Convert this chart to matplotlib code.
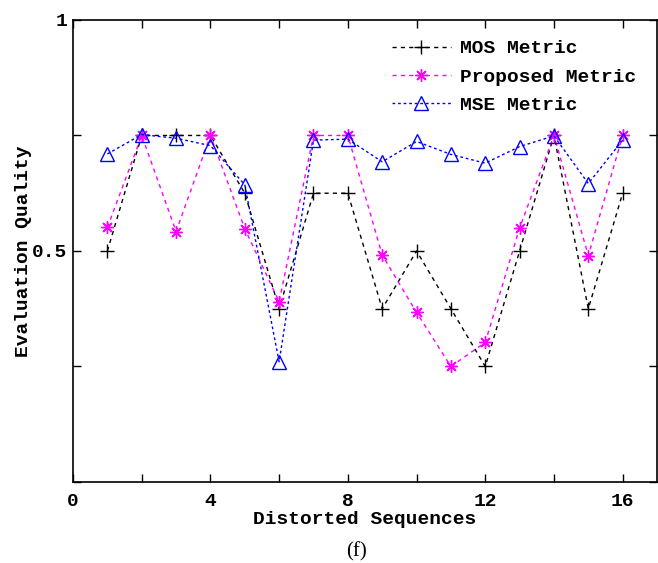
import matplotlib
matplotlib.use("Agg")
import matplotlib.pyplot as plt

# evaluation scores per distorted sequence
seq = [1, 2, 3, 4, 5, 6, 7, 8, 9, 10, 11, 12, 13, 14, 15, 16]
mos = [0.5, 0.75, 0.75, 0.75, 0.625, 0.375, 0.625, 0.625,
       0.375, 0.5, 0.375, 0.25, 0.5, 0.75, 0.375, 0.625]
proposed = [0.551, 0.75, 0.542, 0.75, 0.548, 0.39, 0.75, 0.75,
            0.491, 0.367, 0.25, 0.302, 0.55, 0.75, 0.49, 0.75]
mse = [0.71, 0.752, 0.744, 0.728, 0.643, 0.26, 0.74, 0.742,
       0.693, 0.737, 0.709, 0.69, 0.726, 0.749, 0.646, 0.74]

xticks = [0, 2, 4, 6, 8, 10, 12, 14, 16]
xlabels = ['0', '', '4', '', '8', '', '12', '', '16']
yticks = [0, 0.25, 0.5, 0.75, 1]
ylabels = ['', '', '0.5', '', '1']

mono = {'family': 'Liberation Mono', 'weight': 'bold'}

fig = plt.figure(figsize=(6.58, 5.63), dpi=100)
ax = fig.add_axes([0.111, 0.144, 0.8875, 0.8205])

ax.plot(seq, mos, color='black', ls=(0, (3, 3)), lw=1, marker='+',
        ms=10, mew=1, label='MOS Metric')
ax.plot(seq, proposed, color='magenta', ls=(0, (3, 3)), lw=1,
        marker=(8, 2, 0), ms=9, mew=1, label='Proposed Metric')
ax.plot(seq, mse, color='blue', ls=(0, (2, 2)), lw=1, marker='^',
        ms=10, mfc='none', mew=1, label='MSE Metric')

ax.set_xlim(0, 17)
ax.set_ylim(0, 1)
ax.set_xticks(xticks)
ax.set_xticklabels(xlabels)
ax.set_yticks(yticks)
ax.set_yticklabels(ylabels)
ax.tick_params(direction='in', top=True, right=True, length=6, width=1,
               labelsize=14)
ax.tick_params(axis='x', pad=8)
ax.tick_params(axis='y', pad=4)
for lab in ax.get_xticklabels() + ax.get_yticklabels():
    lab.set_fontfamily('Liberation Mono')
    lab.set_fontweight('bold')
for sp in ax.spines.values():
    sp.set_linewidth(1.2)

ax.set_xlabel('Distorted Sequences', fontsize=14, labelpad=1, **mono)
ax.set_ylabel('Evaluation Quality', fontsize=14, labelpad=0.5, **mono)

leg = ax.legend(loc='upper right', bbox_to_anchor=(0.995, 0.995), frameon=False,
                prop={'family': 'Liberation Mono', 'weight': 'bold', 'size': 14},
                handlelength=3, handletextpad=0.5, labelspacing=0.55)

fig.text(0.526, 0.012, '(f)', fontsize=15, family='Liberation Serif')

fig.savefig('out.png', dpi=100)
